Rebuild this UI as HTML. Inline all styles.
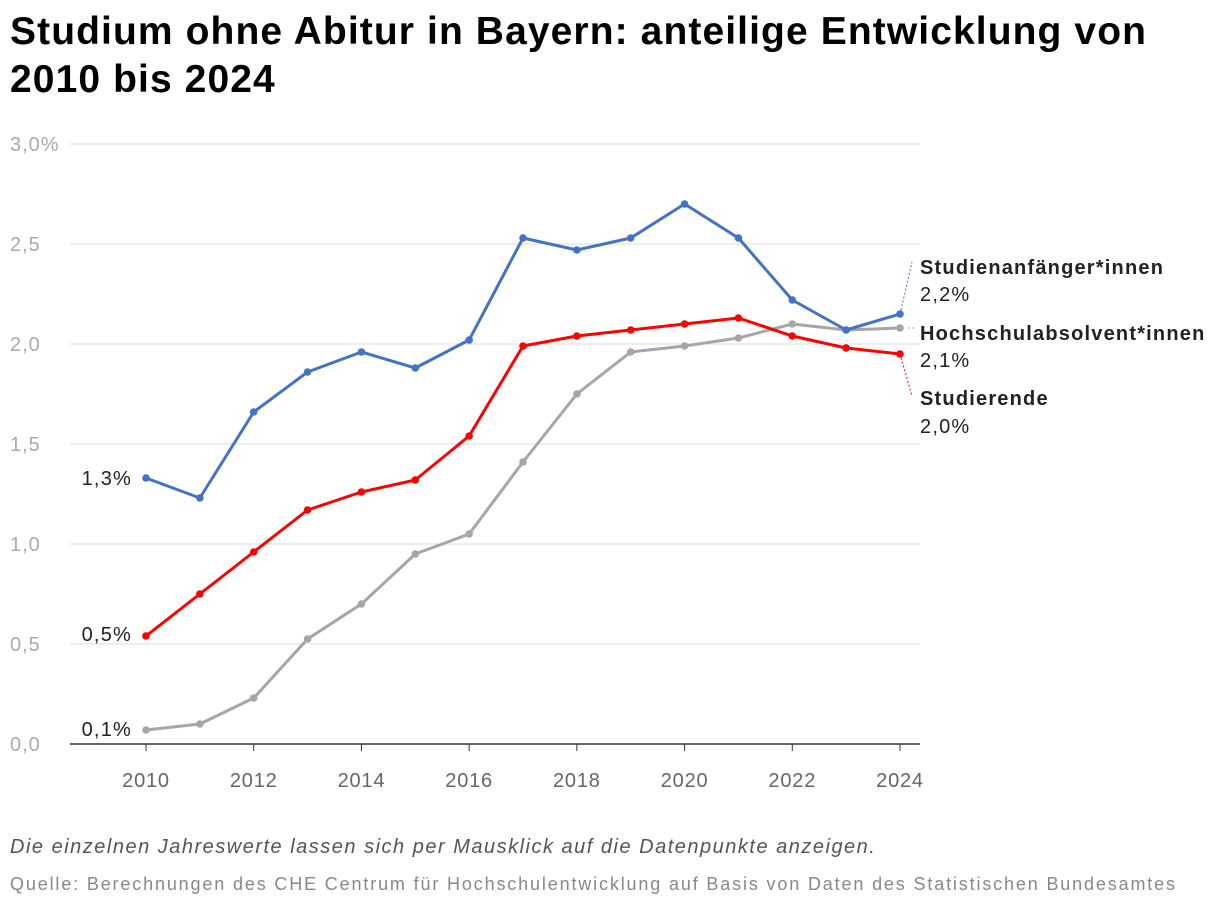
<!DOCTYPE html>
<html><head><meta charset="utf-8"><style>
body{margin:0;background:#fff;font-family:"Liberation Sans",sans-serif;}
#wrap{position:relative;width:1220px;height:908px;overflow:hidden;}
h1{position:absolute;left:10px;top:8px;margin:0;font-size:39px;line-height:48px;font-weight:bold;color:#000;width:1200px;letter-spacing:1.1px}
.note{position:absolute;left:10px;font-size:20px;color:#555;white-space:nowrap}
</style></head><body><div id="wrap">
<h1>Studium ohne Abitur in Bayern: anteilige Entwicklung von 2010 bis 2024</h1>
<svg id="chart" width="1220" height="908" style="position:absolute;left:0;top:0"></svg>
<div class="note" style="top:836px;font-style:italic;letter-spacing:1.5px">Die einzelnen Jahreswerte lassen sich per Mausklick auf die Datenpunkte anzeigen.</div>
<div class="note" style="top:874px;font-size:18px;color:#888;letter-spacing:1.85px">Quelle: Berechnungen des CHE Centrum für Hochschulentwicklung auf Basis von Daten des Statistischen Bundesamtes</div>
</div>
<script>
const years=[2010,2011,2012,2013,2014,2015,2016,2017,2018,2019,2020,2021,2022,2023,2024];
const anfaenger=[1.33,1.23,1.66,1.86,1.96,1.88,2.02,2.53,2.47,2.53,2.70,2.53,2.22,2.07,2.15];
const studierende=[0.54,0.75,0.96,1.17,1.26,1.32,1.54,1.99,2.04,2.07,2.10,2.13,2.04,1.98,1.95];
const absolventen=[0.07,0.10,0.23,0.525,0.70,0.95,1.05,1.41,1.75,1.96,1.99,2.03,2.10,2.07,2.08];
const yTicks=[0,0.5,1,1.5,2,2.5,3];
const yTickLabels=["0,0","0,5","1,0","1,5","2,0","2,5","3,0%"];
const xTicks=[2010,2012,2014,2016,2018,2020,2022,2024];
const NS="http://www.w3.org/2000/svg";
const svg=document.getElementById('chart');
const X=y=>146+(y-2010)*(900-146)/14;
const Y=v=>744-v*200;
function mk(t,a,p){const e=document.createElementNS(NS,t);for(const k in a)e.setAttribute(k,a[k]);(p||svg).appendChild(e);return e;}
yTicks.forEach((v,i)=>{
 if(v>0){const l=mk('line',{x1:70,x2:920,y1:Y(v),y2:Y(v),stroke:'#ddd','stroke-width':1});
 
 }
 const t=mk('text',{x:10,y:Y(v)+7,'font-size':20,fill:'#aaa','letter-spacing':'1'});t.textContent=yTickLabels[i];
 
 
});
const ax=mk('line',{x1:70,x2:920,y1:744,y2:744,stroke:'#333','stroke-width':1.5});


xTicks.forEach(y=>{
 const tk=mk('line',{x1:X(y),x2:X(y),y1:744,y2:751,stroke:'#333'});
 
 
 const t=mk('text',{x:X(y),y:787,'font-size':20,fill:'#666','text-anchor':'middle','letter-spacing':'0.8'});t.textContent=y;
 
 
});
function series(vals,color,name){
 const g=mk('g',{});
 
 
 mk('polyline',{points:vals.map((v,i)=>X(years[i])+','+Y(v)).join(' '),fill:'none',stroke:color,'stroke-width':3,'stroke-linejoin':'round'},g);
 vals.forEach((v,i)=>{const c=mk('circle',{cx:X(years[i]),cy:Y(v),r:3.8,fill:color},g);
  
  });
}
series(absolventen,'#a6a6a6','series-absolventen');
series(studierende,'#ff0000','series-studierende');
series(anfaenger,'#4472c4','series-anfaenger');
function lbl(x,y,txt,bold,name,anchor){const t=mk('text',{x:x,y:y,'font-size':20,fill:'#222','font-weight':bold?'bold':'normal','text-anchor':anchor||'start','letter-spacing':'1.2'});t.textContent=txt;
 
 }
lbl(132,Y(anfaenger[0])+7,'1,3%',false,'start-label-anfaenger','end');
lbl(132,Y(studierende[0])+5,'0,5%',false,'start-label-studierende','end');
lbl(132,Y(absolventen[0])+6,'0,1%',false,'start-label-absolventen','end');
mk('line',{x1:900,y1:Y(anfaenger[14]),x2:912,y2:262,stroke:'#4472c4','stroke-dasharray':'2,2'});
mk('line',{x1:908,y1:Y(absolventen[14]),x2:914,y2:Y(absolventen[14]),stroke:'#a6a6a6','stroke-dasharray':'2,2'});
mk('line',{x1:900,y1:Y(studierende[14]),x2:912,y2:396,stroke:'#ff0000','stroke-dasharray':'2,2'});
lbl(920,274,'Studienanfänger*innen',true,'label-anfaenger');
lbl(920,301,'2,2%',false,'value-anfaenger');
lbl(920,340,'Hochschulabsolvent*innen',true,'label-absolventen');
lbl(920,367,'2,1%',false,'value-absolventen');
lbl(920,405,'Studierende',true,'label-studierende');
lbl(920,433,'2,0%',false,'value-studierende');
</script></body></html>
